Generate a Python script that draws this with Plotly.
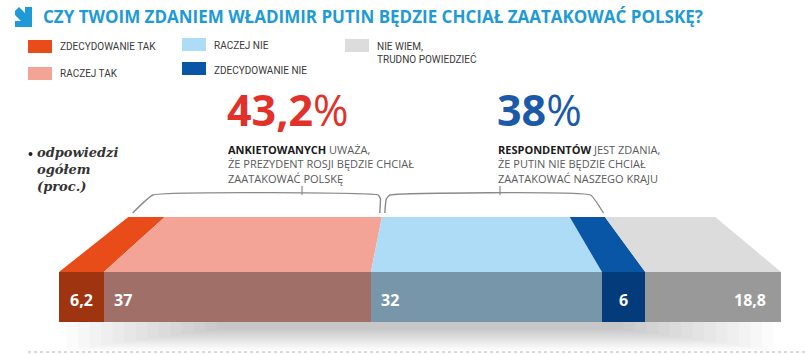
import plotly.graph_objects as go

W, H = 805, 354

# ---------------- data ----------------
title_text = "CZY TWOIM ZDANIEM WŁADIMIR PUTIN BĘDZIE CHCIAŁ ZAATAKOWAĆ POLSKĘ?"
categories = ["ZDECYDOWANIE TAK", "RACZEJ TAK", "RACZEJ NIE", "ZDECYDOWANIE NIE",
              "NIE WIEM,<br>TRUDNO POWIEDZIEĆ"]
values = [6.2, 37, 32, 6, 18.8]
value_labels = ["6,2", "37", "32", "6", "18,8"]
yes_total_label = "43,2"
no_total_label = "38"
yes_lines = ["<b>ANKIETOWANYCH</b> UWAŻA,", "ŻE PREZYDENT ROSJI BĘDZIE CHCIAŁ", "ZAATAKOWAĆ POLSKĘ"]
no_lines = ["<b>RESPONDENTÓW</b> JEST ZDANIA,", "ŻE PUTIN NIE BĘDZIE CHCIAŁ", "ZAATAKOWAĆ NASZEGO KRAJU"]
note_lines = ["odpowiedzi", "ogółem", "(proc.)"]

# ---------------- style ----------------
top_colors = ["#E84C18", "#F4A496", "#AEDCF6", "#0A56A6", "#DCDCDC"]
front_colors = ["#9E3510", "#A07068", "#7896AA", "#033B7B", "#999999"]
label_align = ["center", "left", "left", "center", "right"]

X0_PX, X100_PX = 59, 781          # pixel positions of 0 % and 100 %
SCALE = (X100_PX - X0_PX) / 100.0
FRONT_TOP, FRONT_BOT = 272, 322   # front face (pixel y)
BACK_Y = 217                      # back edge of the top face
BACK_OFF, BACK_K = 9.6, 0.813     # perspective of back edge (data units)


def back(v):
    return BACK_OFF + v * BACK_K


def px(x):
    return x / W


def py(y):
    return 1 - y / H


cum = [0]
for v in values:
    cum.append(cum[-1] + v)

fig = go.Figure()

# soft shadow under the bar
N_SH = 14
for i in range(N_SH):
    inset = 1 + i * 1.6
    depth = 28 - i * 1.6
    fig.add_trace(go.Scatter(
        x=[inset, 100 - inset, 100 - inset, inset, inset],
        y=[FRONT_BOT, FRONT_BOT, FRONT_BOT + depth, FRONT_BOT + depth, FRONT_BOT],
        fill="toself", mode="lines", line=dict(width=0),
        fillcolor="rgba(0,0,0,0.016)", hoverinfo="skip", showlegend=False))

# front faces: stacked horizontal bars
for i, v in enumerate(values):
    fig.add_trace(go.Bar(
        x=[v], y=[(FRONT_TOP + FRONT_BOT) / 2], width=FRONT_BOT - FRONT_TOP,
        orientation="h", marker=dict(color=front_colors[i], line=dict(width=0)),
        name=categories[i], showlegend=False, hoverinfo="skip"))

# top faces (perspective)
for i, v in enumerate(values):
    a, b = cum[i], cum[i + 1]
    fig.add_trace(go.Scatter(
        x=[a, b, back(b), back(a), a],
        y=[FRONT_TOP, FRONT_TOP, BACK_Y, BACK_Y, FRONT_TOP],
        fill="toself", mode="lines", line=dict(width=0),
        fillcolor=top_colors[i], hoverinfo="skip", showlegend=False))

annotations = []

# value labels on the front face
for i, v in enumerate(values):
    a, b = cum[i], cum[i + 1]
    if label_align[i] == "center":
        xx, xa = (a + b) / 2, "center"
    elif label_align[i] == "left":
        xx, xa = a + 1.1, "left"
    else:
        xx, xa = b - 1.8, "right"
    annotations.append(dict(x=xx, y=(FRONT_TOP + FRONT_BOT) / 2 + 3, xref="x", yref="y",
                            text="<b>%s</b>" % value_labels[i], showarrow=False,
                            xanchor=xa, yanchor="middle",
                            font=dict(family="Open Sans", size=16, color="white")))

# brackets
yes_end = cum[2]
no_end = cum[4]
br_col = "#8a8a8a"
fig.add_trace(go.Scatter(
    x=[back(0) + 0.6, back(0) + 3.4, back(yes_end) - 0.5, back(yes_end) - 0.2, back(yes_end) - 0.3],
    y=[213, 195, 195, 199, 213], mode="lines",
    line=dict(color=br_col, width=1.4, shape="spline", smoothing=0.3),
    hoverinfo="skip", showlegend=False))
fig.add_trace(go.Scatter(
    x=[back(yes_end) + 0.4, back(yes_end) + 0.6, back(yes_end) + 1.1, back(no_end) - 2.0, back(no_end) - 0.2],
    y=[213, 199, 195, 195, 213], mode="lines",
    line=dict(color=br_col, width=1.4, shape="spline", smoothing=0.3),
    hoverinfo="skip", showlegend=False))

shapes = []
# bracket ticks
for xt in (302, 500):
    shapes.append(dict(type="line", xref="paper", yref="paper",
                       x0=px(xt), x1=px(xt), y0=py(186), y1=py(195),
                       line=dict(color=br_col, width=1.2)))

# dotted bottom line
shapes.append(dict(type="line", xref="paper", yref="paper",
                   x0=px(28), x1=px(805), y0=py(352), y1=py(352),
                   line=dict(color="#b5b5b5", width=1, dash="dot")))

# title icon (arrow pointing down-right)
shapes.append(dict(type="path", xref="paper", yref="paper",
                   path="M %f %f L %f %f L %f %f L %f %f L %f %f L %f %f L %f %f L %f %f L %f %f L %f %f Z" % (
                       px(15), py(11), px(19), py(7), px(25), py(13), px(25), py(7), px(32), py(7),
                       px(32), py(27), px(15), py(27), px(15), py(21), px(21), py(21), px(15), py(15)),
                   fillcolor="#1E9AD6", line=dict(width=0)))

# note bullet
shapes.append(dict(type="circle", xref="paper", yref="paper",
                   x0=px(28.5), x1=px(32.5), y0=py(152), y1=py(156),
                   fillcolor="#222222", line=dict(width=0)))

# legend squares
legend_pos = [(28, 40), (28, 67), (182, 38), (182, 62), (345, 39)]
legend_text_pos = [(58, 47), (58, 74), (212, 45), (212, 70), (375, 53)]
for i, (lx, ly) in enumerate(legend_pos):
    shapes.append(dict(type="rect", xref="paper", yref="paper",
                       x0=px(lx), x1=px(lx + 24), y0=py(ly), y1=py(ly + 13),
                       fillcolor=top_colors[i], line=dict(width=0)))

for i, (tx, ty) in enumerate(legend_text_pos):
    annotations.append(dict(x=px(tx), y=py(ty), xref="paper", yref="paper",
                            text=categories[i], showarrow=False, xanchor="left",
                            yanchor="middle", align="left",
                            font=dict(family="Roboto", size=10, color="#3a3a3a")))

# title
annotations.append(dict(x=px(41), y=py(17), xref="paper", yref="paper", text="<b>%s</b>" % title_text,
                        showarrow=False, xanchor="left", yanchor="middle",
                        font=dict(family="Open Sans", size=17, color="#1E9AD6")))

# big numbers
annotations.append(dict(x=px(225), y=py(109), xref="paper", yref="paper",
                        text="<b>%s</b>%%" % yes_total_label, showarrow=False,
                        xanchor="left", yanchor="middle",
                        font=dict(family="Open Sans", size=43, color="#E2312A")))
annotations.append(dict(x=px(495), y=py(109), xref="paper", yref="paper",
                        text="<b>%s</b>%%" % no_total_label, showarrow=False,
                        xanchor="left", yanchor="middle",
                        font=dict(family="Open Sans", size=43, color="#1B5AA8")))

# explanatory text (one multi-line annotation each)
for tx, lines in ((226, yes_lines), (496, no_lines)):
    txt = "<br>".join(lines)
    txt = txt.replace("<b>", "<b><span style='color:#1a1a1a'>").replace("</b>", "</span></b>")
    annotations.append(dict(x=px(tx), y=py(139.5), xref="paper", yref="paper",
                            text=txt, showarrow=False, xanchor="left", yanchor="top",
                            align="left",
                            font=dict(family="Open Sans", size=11, color="#5a5a5a")))

# note (italic serif), one multi-line annotation
annotations.append(dict(x=px(35), y=py(143), xref="paper", yref="paper",
                        text="<br>".join("<i><b>%s</b></i>" % t for t in note_lines),
                        showarrow=False, xanchor="left", yanchor="top", align="left",
                        font=dict(family="DejaVu Serif", size=13, color="#333333")))

fig.update_layout(
    width=W, height=H, margin=dict(l=0, r=0, t=0, b=0),
    paper_bgcolor="white", plot_bgcolor="white",
    barmode="stack", bargap=0,
    xaxis=dict(range=[-X0_PX / SCALE, (W - X0_PX) / SCALE], domain=[0, 1],
               visible=False, fixedrange=True),
    yaxis=dict(range=[H, 0], domain=[0, 1], visible=False, fixedrange=True),
    shapes=shapes, annotations=annotations, showlegend=False,
)

fig.write_html("out.html")
